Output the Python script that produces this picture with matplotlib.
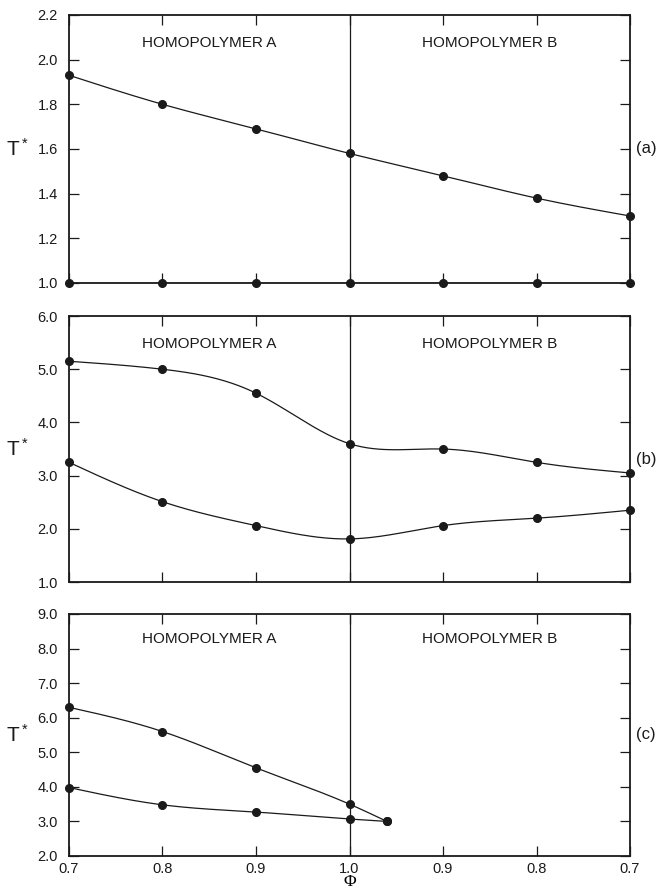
import numpy as np
import matplotlib
matplotlib.use("Agg")
import matplotlib.pyplot as plt

plt.rcParams['font.family'] = ['Liberation Sans', 'DejaVu Sans']
plt.rcParams['mathtext.default'] = 'regular'

# x positions: 0.7 0.8 0.9 1.0 0.9 0.8 0.7  (A side -> B side)
x_pos = [0, 1, 2, 3, 4, 5, 6]
x_labels = ['0.7', '0.8', '0.9', '1.0', '0.9', '0.8', '0.7']

# panel (a)
a_upper = [1.93, 1.80, 1.69, 1.58, 1.48, 1.38, 1.30]
a_lower = [1.0, 1.0, 1.0, 1.0, 1.0, 1.0, 1.0]

# panel (b)
b_upper = [5.15, 5.00, 4.55, 3.60, 3.50, 3.25, 3.05]
b_lower = [3.25, 2.51, 2.06, 1.81, 2.06, 2.20, 2.35]

# panel (c) - curves meet just past phi = 1.0
c_x = [0, 1, 2, 3, 3.4]
c_upper = [6.30, 5.60, 4.55, 3.50, 3.00]
c_lower = [3.98, 3.48, 3.27, 3.07, 3.00]

ylims = [(1.0, 2.2), (1.0, 6.0), (2.0, 9.0)]
yticks = [np.arange(1.0, 2.21, 0.2), np.arange(1.0, 6.01, 1.0), np.arange(2.0, 9.01, 1.0)]
tags = ['(a)', '(b)', '(c)']
tag_y = [0.5, 0.46, 0.5]


def natural_spline(x, y, n=300):
    # plain natural cubic spline, only for drawing the smooth line
    x = np.asarray(x, float)
    y = np.asarray(y, float)
    m = len(x)
    h = np.diff(x)
    A = np.zeros((m, m))
    r = np.zeros(m)
    A[0, 0] = 1
    A[-1, -1] = 1
    for i in range(1, m - 1):
        A[i, i - 1] = h[i - 1]
        A[i, i] = 2 * (h[i - 1] + h[i])
        A[i, i + 1] = h[i]
        r[i] = 3 * ((y[i + 1] - y[i]) / h[i] - (y[i] - y[i - 1]) / h[i - 1])
    c = np.linalg.solve(A, r)
    xs = np.linspace(x[0], x[-1], n)
    ys = np.empty_like(xs)
    for k, xv in enumerate(xs):
        i = min(np.searchsorted(x, xv, side='right') - 1, m - 2)
        dx = xv - x[i]
        b = (y[i + 1] - y[i]) / h[i] - h[i] * (2 * c[i] + c[i + 1]) / 3
        d = (c[i + 1] - c[i]) / (3 * h[i])
        ys[k] = y[i] + b * dx + c[i] * dx ** 2 + d * dx ** 3
    return xs, ys


fig = plt.figure(figsize=(6.59, 8.91), dpi=100)
boxes = [
    [0.1047, 0.6824, 0.8513, 0.3008],
    [0.1047, 0.3468, 0.8513, 0.2985],
    [0.1047, 0.0393, 0.8513, 0.2716],
]

series = [
    [(x_pos, a_upper), (x_pos, a_lower)],
    [(x_pos, b_upper), (x_pos, b_lower)],
    [(c_x, c_upper), (c_x, c_lower)],
]

ink = '#1a1a1a'
for k in range(3):
    ax = fig.add_axes(boxes[k])
    for xs, ys in series[k]:
        sx, sy = natural_spline(xs, ys)
        ax.plot(sx, sy, color=ink, lw=0.9, zorder=3)
        ax.plot(xs, ys, 'o', color=ink, ms=5.5, zorder=4, clip_on=False)
    ax.axvline(3, color=ink, lw=0.9, zorder=2)
    ax.set_xlim(0, 6)
    ax.set_ylim(*ylims[k])
    ax.set_xticks(x_pos)
    ax.set_yticks(yticks[k])
    ax.set_yticklabels(['%.1f' % v for v in yticks[k]])
    if k == 2:
        ax.set_xticklabels(x_labels)
        ax.set_xlabel('Φ', fontsize=12.5, family=['Liberation Serif', 'DejaVu Serif'], labelpad=-1)
    else:
        ax.set_xticklabels([])
    ax.tick_params(direction='in', top=True, right=True, length=7, width=0.9,
                   labelsize=10.5, colors=ink)
    ax.tick_params(axis='y', pad=8)
    ax.tick_params(axis='x', pad=4)
    for s in ax.spines.values():
        s.set_linewidth(1.3)
        s.set_color(ink)
    ax.set_ylabel('T$^*$', rotation=0, fontsize=15, color=ink, labelpad=14, va='center')
    ax.text(1.5, 0.895, 'HOMOPOLYMER A', transform=ax.get_xaxis_transform(),
            ha='center', va='center', fontsize=11, color=ink)
    ax.text(4.5, 0.895, 'HOMOPOLYMER B', transform=ax.get_xaxis_transform(),
            ha='center', va='center', fontsize=11, color=ink)
    ax.text(1.01, tag_y[k], tags[k], transform=ax.transAxes,
            ha='left', va='center', fontsize=12, color=ink)

fig.savefig('out.png', dpi=100)
